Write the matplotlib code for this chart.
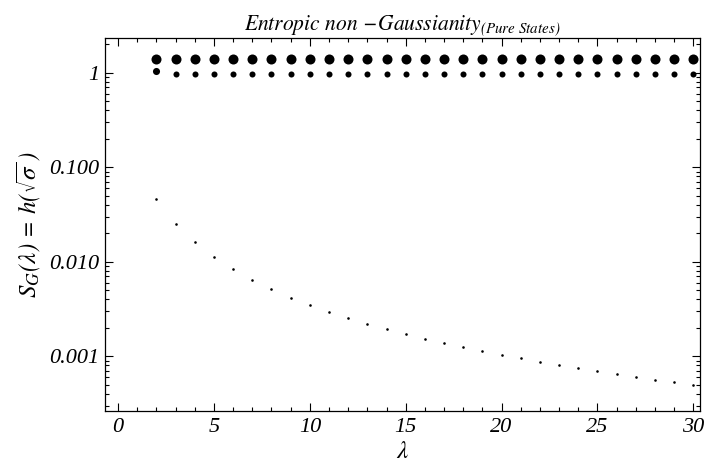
import numpy as np
from matplotlib import pyplot as plt
from matplotlib.ticker import FixedLocator, FixedFormatter, MultipleLocator, NullFormatter

plt.rcParams['font.family'] = 'serif'
plt.rcParams['font.serif'] = ['Liberation Serif', 'DejaVu Serif']
plt.rcParams['font.style'] = 'italic'
plt.rcParams['mathtext.fontset'] = 'stix'

# lambda values and the three point series
lam = np.arange(2, 31)

upper = [1.41] * len(lam)
middle = [1.04] + [0.97] * (len(lam) - 1)
lower = [0.0461, 0.0252, 0.01616, 0.01122, 0.00831, 0.00640, 0.00510, 0.00416,
         0.00348, 0.00296, 0.00254, 0.00221, 0.00194, 0.00172, 0.00153, 0.00138,
         0.00125, 0.00113, 0.00103, 0.000950, 0.000869, 0.000807, 0.000745,
         0.000692, 0.000643, 0.000602, 0.000560, 0.000530, 0.000499]

ytick_vals = [1, 0.1, 0.01, 0.001]
ytick_labels = ['1', '0.100', '0.010', '0.001']

fig = plt.figure(figsize=(7.04, 4.73), dpi=100)
ax = fig.add_axes([0.1487, 0.1317, 0.9943 - 0.1487, 0.919 - 0.1317])

ax.scatter(lam, upper, s=52, color='black', linewidths=0)
ax.scatter(lam[:1], middle[:1], s=26, color='black', linewidths=0)
ax.scatter(lam[1:], middle[1:], s=19, color='black', linewidths=0)
ax.scatter(lam, lower, s=3.5, color='black', linewidths=0)

ax.set_yscale('log')
ax.set_xlim(-0.7, 30.35)
ax.set_ylim(2.65e-4, 2.31)

ax.xaxis.set_major_locator(MultipleLocator(5))
ax.xaxis.set_minor_locator(MultipleLocator(1))
ax.yaxis.set_major_locator(FixedLocator(ytick_vals))
ax.yaxis.set_major_formatter(FixedFormatter(ytick_labels))
ax.yaxis.set_minor_formatter(NullFormatter())

ax.tick_params(which='both', direction='in', top=True, right=True, labelsize=16, width=0.8)
ax.tick_params(which='major', length=6)
ax.tick_params(which='minor', length=3.2)
ax.tick_params(axis='x', pad=5)
ax.tick_params(axis='y', pad=4)
for s in ax.spines.values():
    s.set_linewidth(0.9)

ax.set_xlabel(r'$\lambda$', fontsize=18, labelpad=3)
ax.set_ylabel(r'$S_G(\lambda)\,=\,h(\sqrt{\sigma}\,)$', fontsize=18, labelpad=4)
ax.set_title(r'$Entropic\ non\,-\!Gaussianity_{(Pure\ States)}$', fontsize=15.5, pad=4)

fig.savefig('out.png', dpi=100)
